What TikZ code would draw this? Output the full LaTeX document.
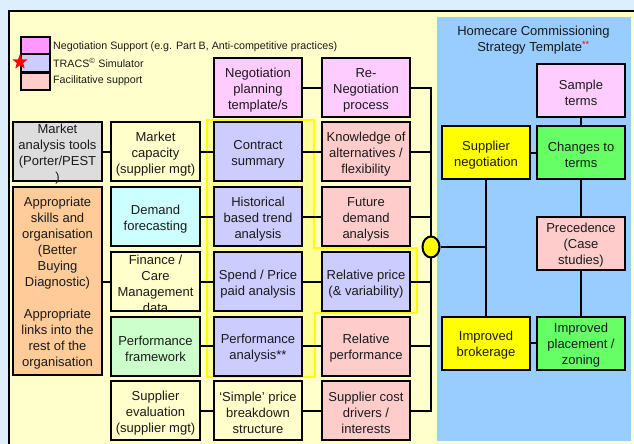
\documentclass[tikz,border=0pt]{standalone}
\usepackage{fontspec}
\setmainfont{Liberation Sans}
\usetikzlibrary{shapes.geometric}
\definecolor{outerbg}{HTML}{DDEEFF}
\definecolor{panelyel}{HTML}{FFFFCC}
\definecolor{hiyel}{HTML}{FFFF99}
\definecolor{brightyel}{HTML}{FFFF00}
\definecolor{bluepanel}{HTML}{99CCFF}
\definecolor{cmag}{HTML}{FF99FF}
\definecolor{cmaglt}{HTML}{FFCCFF}
\definecolor{clav}{HTML}{CCCCFF}
\definecolor{cpink}{HTML}{FFCCCC}
\definecolor{cgray}{HTML}{DDDDDD}
\definecolor{corange}{HTML}{FFCC99}
\definecolor{ccyan}{HTML}{CCFFFF}
\definecolor{cltgreen}{HTML}{CCFFCC}
\definecolor{cgreen}{HTML}{66FF66}
\definecolor{txtcol}{HTML}{1A1A1A}
\tikzset{
  boxfont/.style={font=\fontsize{13}{16}\selectfont, text=txtcol},
  box/.style={draw=black, line width=2pt, minimum width=88, minimum height=59, inner sep=0pt},
  rbox/.style={box, minimum height=53},
  btxt/.style={inner sep=0pt, align=center, boxfont, yshift=-2.5pt},
  conn/.style={draw=black, line width=2pt},
  legbox/.style={draw=black, line width=2pt, minimum width=29, minimum height=17, inner sep=0pt},
  legtxt/.style={anchor=west, inner sep=0pt, font=\fontsize{10.7}{12}\selectfont, text=txtcol, yshift=-0.8pt}
}
\begin{document}
\begin{tikzpicture}[x=1pt,y=-1pt]
\useasboundingbox (0,0) rectangle (634,444);
\fill[outerbg] (0,0) rectangle (634,444);
\fill[panelyel] (9,11) rectangle (650,460);
\draw[line width=2pt] (650,11) -- (9,11) -- (9,460);
\fill[bluepanel] (437,17) rectangle (631,441);
% highlight region
\draw[brightyel, fill=hiyel, line width=2pt] (207,120) -- (314,120) -- (314,248) -- (417,248) -- (417,313) -- (315,313) -- (315,377) -- (207,377) -- cycle;
% legend
\node[legbox, fill=cmag] (lg1) at (35,46) {};
\node[legbox, fill=clav] (lg2) at (35,63) {};
\node[legbox, fill=cpink] (lg3) at (35.5,81) {};
\node[star, star points=5, star point ratio=2.4, fill=red, minimum size=16, inner sep=0pt] (lgstar) at (20,62) {};
\node[legtxt] (lt1) at (53,45.5) {Negotiation Support (e.g. Part B, Anti-competitive practices)};
\node[legtxt] (lt2) at (53,62) {TRACS\textsuperscript{©} Simulator};
\node[legtxt] (lt3) at (53,80) {Facilitative support};
% title
\node[btxt] (title) at (533.5,38) {Homecare Commissioning\\Strategy Template{\color{red}\textsuperscript{**}}};
% column A
\node[box, minimum width=89, fill=cgray] (mat) at (57.5,151.5) {};
\node[btxt] (matT) at (mat) {Market\\analysis tools\\(Porter/PEST\\)};
\node[box, minimum width=89, minimum height=188, fill=corange] (skills) at (57.5,281) {};
\node[btxt] (skillsT) at (skills) {Appropriate\\skills and\\organisation\\(Better\\Buying\\Diagnostic)\\[16pt]Appropriate\\links into the\\rest of the\\organisation};
% column B
\node[box, minimum width=89, fill=panelyel] (mcap) at (155.5,151.5) {};
\node[btxt] (mcapT) at (mcap) {Market\\capacity\\(supplier mgt)};
\node[box, minimum width=89, fill=ccyan] (dfor) at (155.5,216.5) {};
\node[btxt] (dforT) at (dfor) {Demand\\forecasting};
\node[box, minimum width=89, fill=panelyel] (fin) at (155.5,281.5) {};
\node[btxt] (finT) at (fin) {Finance /\\Care\\Management\\data};
\node[box, minimum width=89, fill=cltgreen] (pfw) at (155.5,346) {};
\node[btxt] (pfwT) at (pfw) {Performance\\framework};
\node[box, minimum width=89, fill=panelyel] (seval) at (155.5,410.5) {};
\node[btxt] (sevalT) at (seval) {Supplier\\evaluation\\(supplier mgt)};
% column C
\node[box, fill=cmaglt] (npt) at (258,87.5) {};
\node[btxt] (nptT) at (npt) {Negotiation\\planning\\template/s};
\node[box, fill=clav] (csum) at (258,151.5) {};
\node[btxt] (csumT) at (csum) {Contract\\summary};
\node[box, fill=clav] (hist) at (258,216.5) {};
\node[btxt] (histT) at (hist) {Historical\\based trend\\analysis};
\node[box, fill=clav] (spend) at (258,281.5) {};
\node[btxt] (spendT) at (spend) {Spend / Price\\paid analysis};
\node[box, fill=clav] (pana) at (258,346) {};
\node[btxt] (panaT) at (pana) {Performance\\analysis**};
\node[box, fill=panelyel] (simple) at (258,410.5) {};
\node[btxt] (simpleT) at (simple) {‘Simple’ price\\breakdown\\structure};
% column D
\node[box, fill=cmaglt] (reneg) at (366,87.5) {};
\node[btxt] (renegT) at (reneg) {Re-\\Negotiation\\process};
\node[box, fill=cpink] (know) at (366,151.5) {};
\node[btxt] (knowT) at (know) {Knowledge of\\alternatives /\\flexibility};
\node[box, fill=cpink] (fdem) at (366,216.5) {};
\node[btxt] (fdemT) at (fdem) {Future\\demand\\analysis};
\node[box, fill=clav] (relp) at (366,281.5) {};
\node[btxt] (relpT) at (relp) {Relative price\\(\& variability)};
\node[box, fill=cpink] (relperf) at (366,346) {};
\node[btxt] (relperfT) at (relperf) {Relative\\performance};
\node[box, fill=cpink] (scost) at (366,410.5) {};
\node[btxt] (scostT) at (scost) {Supplier cost\\drivers /\\interests};
% right panel
\node[rbox, fill=cmaglt] (samp) at (581,90.5) {};
\node[btxt] (sampT) at (samp) {Sample\\terms};
\node[rbox, fill=brightyel] (sneg) at (486,152.5) {};
\node[btxt] (snegT) at (sneg) {Supplier\\negotiation};
\node[rbox, fill=cgreen] (chg) at (581,152.5) {};
\node[btxt] (chgT) at (chg) {Changes to\\terms};
\node[rbox, fill=cpink] (prec) at (581,243) {};
\node[btxt] (precT) at (prec) {Precedence\\(Case\\studies)};
\node[rbox, fill=brightyel] (ibrok) at (486,343) {};
\node[btxt] (ibrokT) at (ibrok) {Improved\\brokerage};
\node[rbox, fill=cgreen] (iplace) at (581,343) {};
\node[btxt] (iplaceT) at (iplace) {Improved\\placement /\\zoning};
% connectors rows
\draw[conn] (mat) -- (mcap) -- (csum) -- (know);
\draw[conn] (dfor) -- (hist) -- (fdem);
\draw[conn] (skills.east |- fin) -- (fin) -- (spend) -- (relp);
\draw[conn] (pfw) -- (pana) -- (relperf);
\draw[conn] (seval) -- (simple) -- (scost);
\draw[conn] (npt) -- (reneg);
% bus
\coordinate (bt) at (431,87.5);
\coordinate (bb) at (431,410.5);
\draw[conn] (reneg.east) -- (bt) -- (bb) -- (scost.east);
\draw[conn] (know.east) -- (know.east -| bt);
\draw[conn] (fdem.east) -- (fdem.east -| bt);
\draw[conn] (relp.east) -- (relp.east -| bt);
\draw[conn] (relperf.east) -- (relperf.east -| bt);
% right connectors
\draw[conn] (sneg) -- (chg);
\draw[conn] (ibrok) -- (iplace);
\draw[conn] (samp) -- (chg);
\draw[conn] (chg) -- (prec);
\draw[conn] (prec) -- (iplace);
\draw[conn] (sneg) -- (ibrok);
\node[ellipse, draw=black, line width=2pt, fill=brightyel, minimum width=17, minimum height=21, inner sep=0pt] (hub) at (431,247) {};
\draw[conn] (hub.east) -- (hub.east -| sneg);
\end{tikzpicture}
\end{document}
